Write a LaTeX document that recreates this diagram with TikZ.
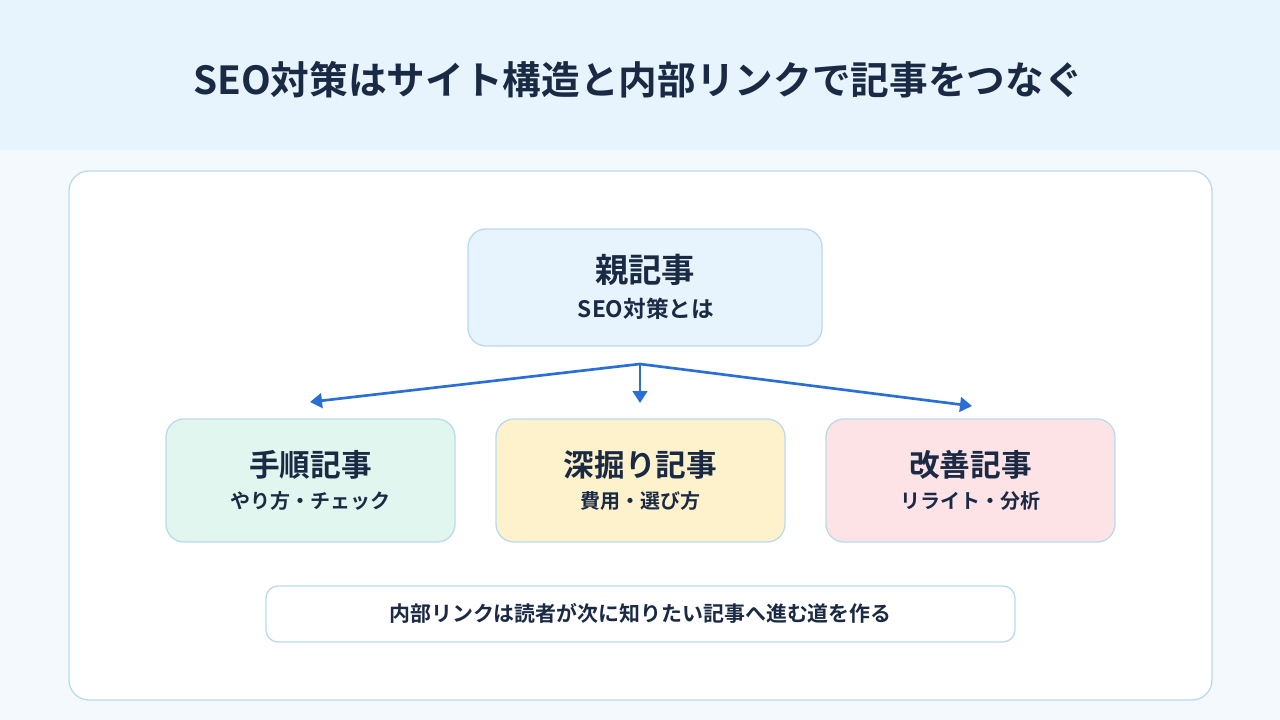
\documentclass[tikz,border=0pt]{standalone}
\usepackage{fontspec}
\setmainfont{Noto Sans CJK JP}[BoldFont={Noto Sans CJK JP Bold}]
\usetikzlibrary{arrows.meta}
\definecolor{ink}{HTML}{1B2A44}
\definecolor{band}{HTML}{E7F3FD}
\definecolor{bg}{HTML}{F4F9FD}
\definecolor{edge}{HTML}{BCDAEE}
\definecolor{arr}{HTML}{2A6FD6}
\begin{document}
\begin{tikzpicture}[x=0.75pt,y=-0.75pt,
  box/.style={draw=edge,line width=1pt,rounded corners=13.5pt,inner sep=0pt,text=ink,align=center,font=\bfseries},
  conn/.style={draw=arr,line width=2pt,-{Triangle[length=9pt,width=11pt]}}]
\fill[bg] (0,0) rectangle (1280,720);
\useasboundingbox (0,0) rectangle (1280,720);
\fill[band] (0,0) rectangle (1280,150);
\node[text=ink,font=\bfseries\fontsize{29}{33}\selectfont] (title) at (638,80) {SEO対策はサイト構造と内部リンクで記事をつなぐ};
\node[box,fill=white,rounded corners=15pt,minimum width=1143*0.75pt,minimum height=529*0.75pt] (panel) at (640.5,435.5) {};
\node[box,fill=band,minimum width=354*0.75pt,minimum height=117*0.75pt] (parent) at (645,287.5) {};
\node[text=ink,font=\bfseries\fontsize{25}{28}\selectfont] (pt) at (645,270) {親記事};
\node[text=ink,font=\bfseries\fontsize{17}{20}\selectfont] (ps) at (646,309) {SEO対策とは};
\foreach \n/\x/\c/\t/\s in {a/310.5/E1F6EF/手順記事/やり方・チェック, b/640.5/FEF2CC/深掘り記事/費用・選び方, c/970.5/FDE2E6/改善記事/リライト・分析}{
  \definecolor{tmp}{HTML}{\c}
  \node[box,fill=tmp,minimum width=289*0.75pt,minimum height=123*0.75pt] (\n) at (\x,480.5) {};
  \node[text=ink,font=\bfseries\fontsize{23}{26}\selectfont] (\n t) at (\x,465) {\t};
  \node[text=ink,font=\bfseries\fontsize{15}{18}\selectfont] (\n s) at (\x,501) {\s};
}
\coordinate (j) at (640,364);
\coordinate (ta) at (310,402);
\coordinate (tb) at (640,403);
\coordinate (tc) at (972,406);
\draw[conn] (j) -- (ta);
\draw[conn] (j) -- (tb);
\draw[conn] (j) -- (tc);
\node[box,fill=white,rounded corners=9pt,minimum width=749*0.75pt,minimum height=56*0.75pt] (note) at (640.5,614) {};
\node[text=ink,font=\bfseries\fontsize{15.7}{18}\selectfont] (nt) at (640.5,613) {内部リンクは読者が次に知りたい記事へ進む道を作る};
\end{tikzpicture}
\end{document}
